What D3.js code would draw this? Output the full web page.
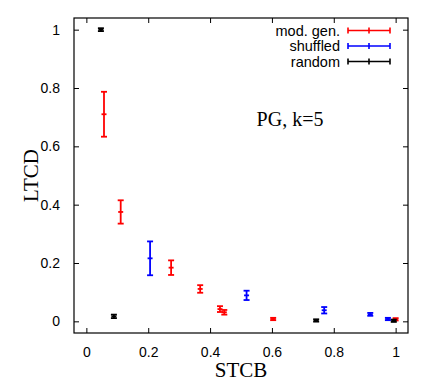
<!DOCTYPE html>
<html>
<head>
<meta charset="utf-8">
<script src="https://cdn.jsdelivr.net/npm/d3@7"></script>
<style>
	body { margin: 0; background: #fff; }
	svg { display: block; }
	.tick text { font-family: 'Liberation Sans', Arial, sans-serif; font-size: 14px; fill: #000; }
</style>
</head>
<body>
<svg></svg>
<script>
// mod. gen. series
const modX = [0.057, 0.111, 0.274, 0.368, 0.432, 0.446, 0.604, 1.0];
const modY = [0.71, 0.375, 0.184, 0.111, 0.042, 0.031, 0.008, 0.007];
const modErr = [0.077, 0.04, 0.025, 0.013, 0.01, 0.008, 0.004, 0.004];

// shuffled series
const shufX = [0.206, 0.518, 0.769, 0.918, 0.975];
const shufY = [0.216, 0.089, 0.038, 0.024, 0.008];
const shufErr = [0.058, 0.016, 0.011, 0.005, 0.004];

// random series
const randX = [0.047, 0.089, 0.743, 0.994];
const randY = [1.0, 0.017, 0.003, 0.002];
const randErr = [0.005, 0.006, 0.004, 0.004];

const xTicks = [0, 0.2, 0.4, 0.6, 0.8, 1];
const yTicks = [0, 0.2, 0.4, 0.6, 0.8, 1];

const series = [
	{ name: 'mod. gen.', color: '#ff0000', xs: modX, ys: modY, es: modErr },
	{ name: 'shuffled', color: '#0000ff', xs: shufX, ys: shufY, es: shufErr },
	{ name: 'random', color: '#000000', xs: randX, ys: randY, es: randErr }
];

const width = 436;
const height = 382;
const mLeft = 74, mRight = 408, mTop = 18, mBottom = 333;

const svg = d3.select('svg')
	.attr('width', width)
	.attr('height', height)
	.attr('viewBox', [0, 0, width, height]);

const x = d3.scaleLinear().domain([-0.04, 1.04]).range([mLeft, mRight]);
const y = d3.scaleLinear().domain([-0.04, 1.04]).range([mBottom, mTop]);

const fmt = d => d === 0 || d === 1 ? String(d) : d.toFixed(1);

// axes with inward ticks, mirrored on top and right
svg.append('g')
	.attr('transform', `translate(0,${mBottom})`)
	.call(d3.axisBottom(x).tickValues(xTicks).tickSize(-5).tickPadding(14).tickFormat(fmt))
	.call(g => g.select('.domain').remove());

svg.append('g')
	.attr('transform', `translate(0,${mTop})`)
	.call(d3.axisTop(x).tickValues(xTicks).tickSize(-5).tickFormat(''))
	.call(g => g.select('.domain').remove());

svg.append('g')
	.attr('transform', `translate(${mLeft},0)`)
	.call(d3.axisLeft(y).tickValues(yTicks).tickSize(-5).tickPadding(14).tickFormat(fmt))
	.call(g => g.select('.domain').remove());

svg.append('g')
	.attr('transform', `translate(${mRight},0)`)
	.call(d3.axisRight(y).tickValues(yTicks).tickSize(-5).tickFormat(''))
	.call(g => g.select('.domain').remove());

svg.selectAll('.tick line').attr('stroke', '#000');

svg.append('rect')
	.attr('x', mLeft)
	.attr('y', mTop)
	.attr('width', mRight - mLeft)
	.attr('height', mBottom - mTop)
	.attr('fill', 'none')
	.attr('stroke', '#000')
	.attr('stroke-width', 1.2);

// error bars
const cap = 3;
series.forEach(s => {
	const pts = s.xs.map((v, i) => ({ x: v, y: s.ys[i], e: s.es[i] }));
	const g = svg.append('g')
		.attr('stroke', s.color)
		.attr('stroke-width', 1.8)
		.attr('fill', 'none');

	const bar = g.selectAll('g')
		.data(pts)
		.enter()
			.append('g');

	bar.append('line')
		.attr('x1', d => x(d.x))
		.attr('x2', d => x(d.x))
		.attr('y1', d => y(d.y + d.e))
		.attr('y2', d => y(d.y - d.e));

	bar.append('line')
		.attr('x1', d => x(d.x) - cap)
		.attr('x2', d => x(d.x) + cap)
		.attr('y1', d => y(d.y + d.e))
		.attr('y2', d => y(d.y + d.e));

	bar.append('line')
		.attr('x1', d => x(d.x) - cap)
		.attr('x2', d => x(d.x) + cap)
		.attr('y1', d => y(d.y - d.e))
		.attr('y2', d => y(d.y - d.e));

	bar.append('line')
		.attr('x1', d => x(d.x) - 2.5)
		.attr('x2', d => x(d.x) + 2.5)
		.attr('y1', d => y(d.y))
		.attr('y2', d => y(d.y));
});

// legend
const legendY = [30.5, 46, 61.5];
const legend = svg.append('g');
series.forEach((s, i) => {
	const ly = legendY[i];
	legend.append('text')
		.attr('x', 340)
		.attr('y', ly + 5)
		.attr('text-anchor', 'end')
		.attr('font-family', "'Liberation Sans', Arial, sans-serif")
		.attr('font-size', 14.5)
		.text(s.name);
	const lg = legend.append('g')
		.attr('stroke', s.color)
		.attr('stroke-width', 1.6);
	lg.append('line').attr('x1', 348).attr('x2', 390).attr('y1', ly).attr('y2', ly);
	[348, 369, 390].forEach(cx => {
		lg.append('line').attr('x1', cx).attr('x2', cx).attr('y1', ly - 3).attr('y2', ly + 3);
	});
});

// annotation
svg.append('text')
	.attr('x', 290)
	.attr('y', 126)
	.attr('text-anchor', 'middle')
	.attr('font-family', "'Liberation Serif', 'Times New Roman', serif")
	.attr('font-size', 20)
	.text('PG, k=5');

// axis titles
svg.append('text')
	.attr('x', (mLeft + mRight) / 2)
	.attr('y', 377)
	.attr('text-anchor', 'middle')
	.attr('font-family', "'Liberation Serif', 'Times New Roman', serif")
	.attr('font-size', 21)
	.text('STCB');

svg.append('text')
	.attr('transform', `translate(38,${(mTop + mBottom) / 2}) rotate(-90)`)
	.attr('text-anchor', 'middle')
	.attr('font-family', "'Liberation Serif', 'Times New Roman', serif")
	.attr('font-size', 21)
	.text('LTCD');
</script>
</body>
</html>
